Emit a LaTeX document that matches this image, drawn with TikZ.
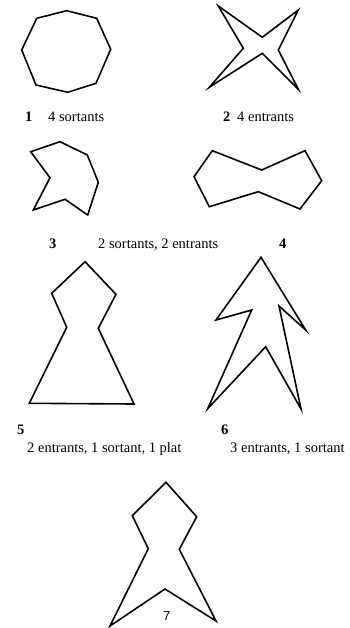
\documentclass[tikz,border=0pt]{standalone}
\usepackage{fontspec}
\setmainfont{Liberation Serif}
\newfontfamily\sansfig{Liberation Sans}
\usetikzlibrary{positioning}

\begin{document}
\begin{tikzpicture}[x=1pt, y=-1pt, poly/.style = {draw, line width=1.6pt, line join=miter}, lbl/.style = {anchor=base west, inner sep=0pt, font=\fontsize{14.5}{17}\selectfont}, num/.style = {lbl, font=\fontsize{14.5}{17}\selectfont\bfseries}]
        \useasboundingbox (0,0) rectangle (350,628);
        % 1 : octogone
        \draw[poly] (66.7,10.7) -- (96.7,18.3) -- (110.7,49.3) -- (96,83.3) -- (67.7,92.3) -- (36,85) -- (21.7,50) -- (36.7,18.3) -- cycle;
        \node[num] (n1) at (25,122) {1};
        \node[lbl] (t1) at (48,122) {4 sortants};
        % 2 : etoile
        \draw[poly] (218.3,6) -- (262.3,37.3) -- (298.3,10) -- (278.3,50) -- (298.3,89.3) -- (262.3,53.3) -- (209.3,87.3) -- (243.3,48.3) -- cycle;
        \node[num] (n2) at (223,122) {2};
        \node[lbl] (t2) at (237,122) {4 entrants};
        % 3
        \draw[poly] (30.7,151.7) -- (60,141.7) -- (87.3,155) -- (98.3,182.3) -- (87.7,215) -- (65,199.3) -- (33.3,210) -- (50,177.7) -- cycle;
        \node[num] (n3) at (49,248) {3};
        \node[lbl] (t3) at (98,248) {2 sortants, 2 entrants};
        % 4 : noeud papillon
        \draw[poly] (212.3,150.7) -- (261.7,170) -- (305,150.7) -- (321.7,180.7) -- (300,209) -- (258.3,191.7) -- (209.3,206.7) -- (194,176.7) -- cycle;
        \node[num] (n4) at (279,248) {4};
        % 5
        \draw[poly] (85,261.7) -- (116,294.3) -- (98.3,328.3) -- (134,404) -- (29.3,403.3) -- (66.7,327.3) -- (51.7,293.3) -- cycle;
        \node[num] (n5) at (17,434) {5};
        \node[lbl] (t5) at (27,452) {2 entrants, 1 sortant, 1 plat};
        % 6 : fleche
        \draw[poly] (261,257.3) -- (305.7,330) -- (279,306) -- (301,409) -- (265.7,346.7) -- (207.7,408.7) -- (251.7,310) -- (216,320) -- cycle;
        \node[num] (n6) at (221,434) {6};
        \node[lbl] (t6) at (230,452) {3 entrants, 1 sortant};
        % 7
        \draw[poly] (166,482.3) -- (196.7,516.7) -- (179.3,549.3) -- (216,621) -- (165,589) -- (110,626) -- (148.3,548.7) -- (132.3,515.7) -- cycle;
        \node[lbl, font=\fontsize{13}{15}\selectfont\sansfig] (n7) at (163,620) {7};
\end{tikzpicture}
\end{document}
